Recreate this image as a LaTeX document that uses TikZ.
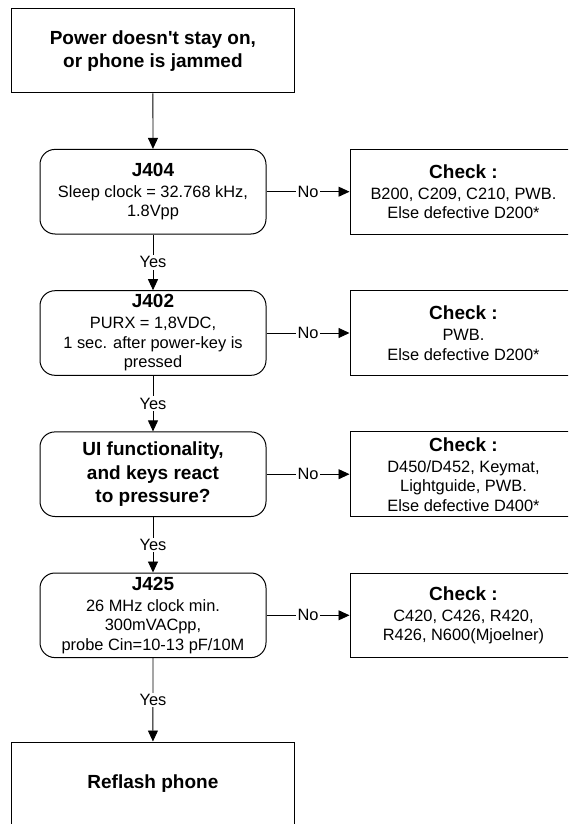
\documentclass[tikz,border=0pt]{standalone}
\usepackage{fontspec}
\setmainfont{Liberation Sans}
\usetikzlibrary{arrows.meta}
\newcommand\fbig{\fontsize{19}{23.5}\selectfont\bfseries}
\newcommand\fnorm{\fontsize{16.4}{19.5}\selectfont}
\begin{document}
\begin{tikzpicture}[x=1pt,y=-1pt,
  box/.style={draw, line width=1pt, minimum width=282.3pt, minimum height=84pt, align=center, inner sep=0pt, font=\fbig},
  dec/.style={draw, line width=1pt, rounded corners=15pt, minimum width=226pt, minimum height=84.6pt, align=center, inner sep=0pt, font=\fnorm},
  decb/.style={dec, font=\fbig},
  chk/.style={draw, line width=1pt, minimum width=227pt, minimum height=84.6pt, align=center, inner sep=0pt, font=\fnorm},
  conn/.style={line width=0.9pt, -{Triangle[length=11pt,width=10pt]}},
  lab/.style={fill=white, inner sep=1.5pt, font=\fnorm}]
\useasboundingbox (0,0) rectangle (568,824);
\clip (0,0) rectangle (568,824);
\fill[white] (0,0) rectangle (568,824);

\node[box] (start) at (152.9,51) {Power doesn\textquotesingle t stay on,\\or phone is jammed};

\node[dec] (j404) at (153,191.7) {{\fbig J404}\\[1.5pt]Sleep clock = 32.768 kHz,\\1.8Vpp};
\node[dec] (j402) at (153,333) {{\fbig J402}\\[1.5pt]PURX = 1,8VDC,\\1 sec. after power-key is\\pressed};
\node[decb] (ui) at (153,474.2) {UI functionality,\\and keys react\\to pressure?};
\node[dec] (j425) at (153,615.3) {{\fbig J425}\\[1.5pt]26 MHz clock min.\\300mVACpp,\\probe Cin=10-13 pF/10M};

\node[box] (reflash) at (152.9,784) {Reflash phone};

\node[chk] (c1) at (463.5,191.7) {{\fbig Check :}\\[1.5pt]B200, C209, C210, PWB.\\Else defective D200*};
\node[chk] (c2) at (463.5,333) {{\fbig Check :}\\[1.5pt]PWB.\\Else defective D200*};
\node[chk] (c3) at (463.5,474.2) {{\fbig Check :}\\[1.5pt]D450/D452, Keymat,\\Lightguide, PWB.\\Else defective D400*};
\node[chk] (c4) at (463.5,615.3) {{\fbig Check :}\\[1.5pt]C420, C426, R420,\\R426, N600(Mjoelner)};

\draw[conn] (start) -- (j404);
\draw[conn] (j404) -- node[lab] {Yes} (j402);
\draw[conn] (j402) -- node[lab] {Yes} (ui);
\draw[conn] (ui) -- node[lab] {Yes} (j425);
\draw[conn] (j425) -- node[lab] {Yes} (reflash);

\draw[conn] (j404) -- node[lab] {No} (c1);
\draw[conn] (j402) -- node[lab] {No} (c2);
\draw[conn] (ui) -- node[lab] {No} (c3);
\draw[conn] (j425) -- node[lab] {No} (c4);
\end{tikzpicture}
\end{document}
